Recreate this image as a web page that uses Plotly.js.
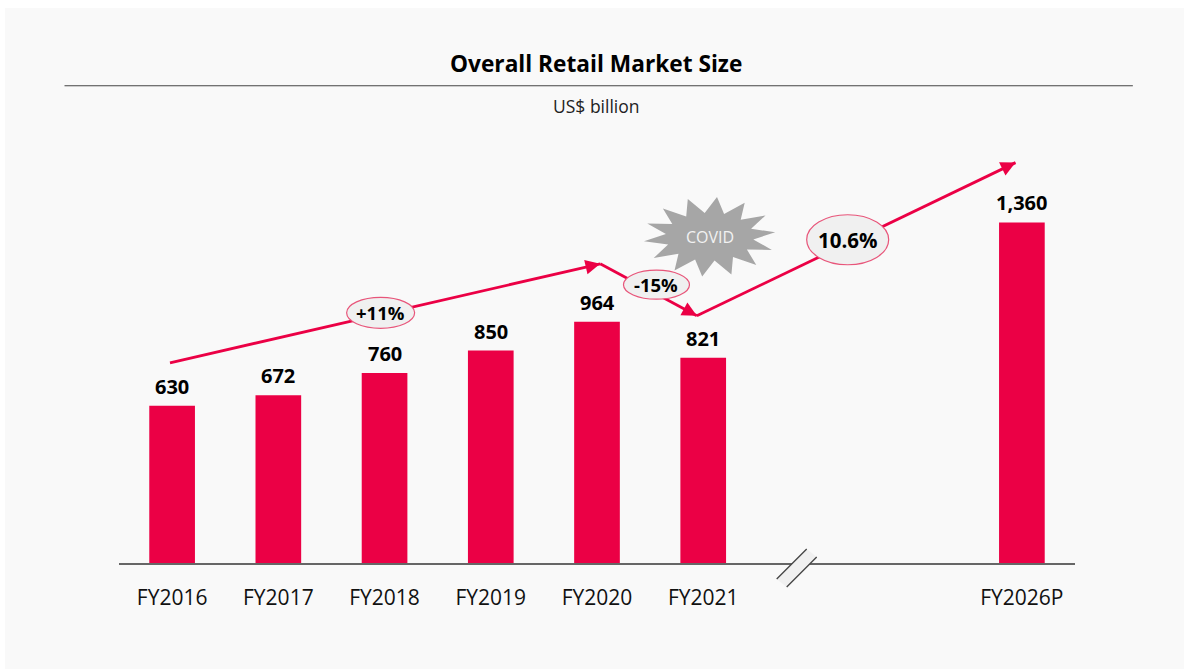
<!DOCTYPE html>
<html>
<head>
<meta charset="utf-8">
<script src="https://cdn.plot.ly/plotly-3.0.1.min.js"></script>
<style>
  html, body { margin: 0; padding: 0; background: #ffffff; }
  #chart { position: absolute; left: 5px; top: 8px; width: 1179px; height: 661px; }
</style>
</head>
<body>
<div id="chart"></div>
<script>
// ---- data ----
const categories = ["FY2016", "FY2017", "FY2018", "FY2019", "FY2020", "FY2021", "FY2026P"];
const positions  = [0, 1, 2, 3, 4, 5, 8];
const marketSize = [630, 672, 760, 850, 964, 821, 1360];
const valueLabels = ["630", "672", "760", "850", "964", "821", "1,360"];

// growth call-outs
const growthLabels = ["+11%", "-15%", "10.6%"];

const RED = "#eb0045";
const FONT = "Open Sans, Noto Sans, sans-serif";

// pixel scale of the plot area (used for decorative arrowhead directions)
const PX_PER_X = 955.8 / 9;
const PX_PER_Y = 426.7 / 1700;

const bars = {
  type: "bar",
  x: positions,
  y: marketSize,
  width: 0.43,
  marker: { color: RED },
  hoverinfo: "skip",
  showlegend: false
};

const annotations = [];
const shapes = [];

// value labels above bars
positions.forEach((p, i) => {
  annotations.push({
    x: p, y: marketSize[i], xref: "x", yref: "y",
    text: "<b>" + valueLabels[i] + "</b>",
    showarrow: false, yanchor: "bottom", yshift: 4,
    font: { family: FONT, size: 20, color: "#000" }
  });
});

// title & subtitle
annotations.push({
  xref: "paper", yref: "paper", x: 0.499, y: 1.172, xanchor: "center", yanchor: "middle",
  text: "<b>Overall Retail Market Size</b>", showarrow: false,
  font: { family: FONT, size: 22.7, color: "#000" }
});
annotations.push({
  xref: "paper", yref: "paper", x: 0.499, y: 1.073, xanchor: "center", yanchor: "middle",
  text: "US$ billion", showarrow: false,
  font: { family: FONT, size: 17.5, color: "#222" }
});

// trend arrows (decorative): lines as shapes, heads as short annotations
const arrowPts = [[-0.02, 801], [4.03, 1195], [4.94, 988], [7.94, 1598]];
for (let k = 1; k < arrowPts.length; k++) {
  const P = arrowPts[k - 1], Q = arrowPts[k];
  shapes.push({
    type: "line", xref: "x", yref: "y", x0: P[0], y0: P[1], x1: Q[0], y1: Q[1],
    line: { color: RED, width: 2.8 }, layer: "above"
  });
  const dx = (Q[0] - P[0]) * PX_PER_X, dy = -(Q[1] - P[1]) * PX_PER_Y;
  const L = Math.hypot(dx, dy);
  annotations.push({
    x: Q[0], y: Q[1], xref: "x", yref: "y",
    ax: -dx / L * 14, ay: -dy / L * 14,
    showarrow: true, arrowhead: 2, arrowsize: 1.05, arrowwidth: 2.8, arrowcolor: RED,
    text: "", standoff: 0, startstandoff: 0
  });
}

// ellipses for growth labels
const ell = [
  { x: 1.963, y: 1000, w: 68, h: 31, size: 18.5 },
  { x: 4.56, y: 1112, w: 66, h: 29, size: 18.5 },
  { x: 6.36, y: 1291, w: 82, h: 50, size: 20.5 }
];
ell.forEach((e, i) => {
  shapes.push({
    type: "circle", xref: "x", yref: "y", xsizemode: "pixel", ysizemode: "pixel",
    xanchor: e.x, yanchor: e.y, x0: -e.w / 2, x1: e.w / 2, y0: -e.h / 2, y1: e.h / 2,
    fillcolor: "#f0f0f0", line: { color: "#e8557a", width: 1.2 }, layer: "above"
  });
  annotations.push({
    x: e.x, y: e.y, xref: "x", yref: "y", showarrow: false,
    text: "<b>" + growthLabels[i] + "</b>",
    font: { family: FONT, size: e.size, color: "#000" }
  });
});

// COVID starburst
(function () {
  const n = 14, ro = [66, 40], ri = [44, 24];
  let d = "";
  for (let i = 0; i < 2 * n; i++) {
    const a = Math.PI * i / n + Math.PI / (2 * n);
    const rx = i % 2 === 0 ? ro[0] : ri[0];
    const ry = i % 2 === 0 ? ro[1] : ri[1];
    const px = (rx * Math.cos(a)).toFixed(1), py = (ry * Math.sin(a)).toFixed(1);
    d += (i === 0 ? "M" : "L") + px + "," + py + " ";
  }
  d += "Z";
  shapes.push({
    type: "path", xref: "x", yref: "y", xsizemode: "pixel", ysizemode: "pixel",
    xanchor: 5.06, yanchor: 1303, path: d,
    fillcolor: "#a6a6a6", line: { width: 0 }, layer: "above"
  });
  annotations.push({
    x: 5.06, y: 1303, xref: "x", yref: "y", showarrow: false, text: "COVID",
    font: { family: FONT, size: 16, color: "#f2f2f2" }
  });
})();

// axis base line
shapes.push({
  type: "line", xref: "paper", yref: "paper", x0: 0, x1: 1, y0: 0, y1: 0,
  line: { color: "#666666", width: 2 }, layer: "above"
});

// axis break marks
shapes.push({
  type: "path", xref: "x", yref: "paper", xsizemode: "pixel", ysizemode: "pixel",
  xanchor: 5.88, yanchor: 0,
  path: "M-20,-15 L10,15 L20,7 L-10,-23 Z",
  fillcolor: "#f0f0f0", line: { width: 0 }, layer: "above"
});
shapes.push({
  type: "path", xref: "x", yref: "paper", xsizemode: "pixel", ysizemode: "pixel",
  xanchor: 5.88, yanchor: 0,
  path: "M-20,-15 L10,15 M-10,-23 L20,7",
  line: { color: "#444", width: 1.3 }, layer: "above"
});

// title underline
shapes.push({
  type: "line", xref: "paper", yref: "paper", x0: -0.057, x1: 1.0605, y0: 1.12, y1: 1.12,
  line: { color: "#444", width: 1.2 }
});

const layout = {
  width: 1179, height: 661,
  paper_bgcolor: "#f9f9f9", plot_bgcolor: "#f9f9f9",
  margin: { l: 114.4, r: 108.8, t: 129.3, b: 105 },
  showlegend: false,
  xaxis: {
    range: [-0.5, 8.5], tickmode: "array", tickvals: positions, ticktext: categories,
    showgrid: false, zeroline: false, showline: false,
    ticks: "outside", ticklen: 15, tickcolor: "rgba(0,0,0,0)",
    tickfont: { family: FONT, size: 21, color: "#111" }, fixedrange: true
  },
  yaxis: {
    range: [0, 1700], visible: false, showgrid: false, zeroline: false, fixedrange: true
  },
  annotations: annotations,
  shapes: shapes
};

Plotly.newPlot("chart", [bars], layout, { displayModeBar: false, staticPlot: true });
</script>
</body>
</html>
